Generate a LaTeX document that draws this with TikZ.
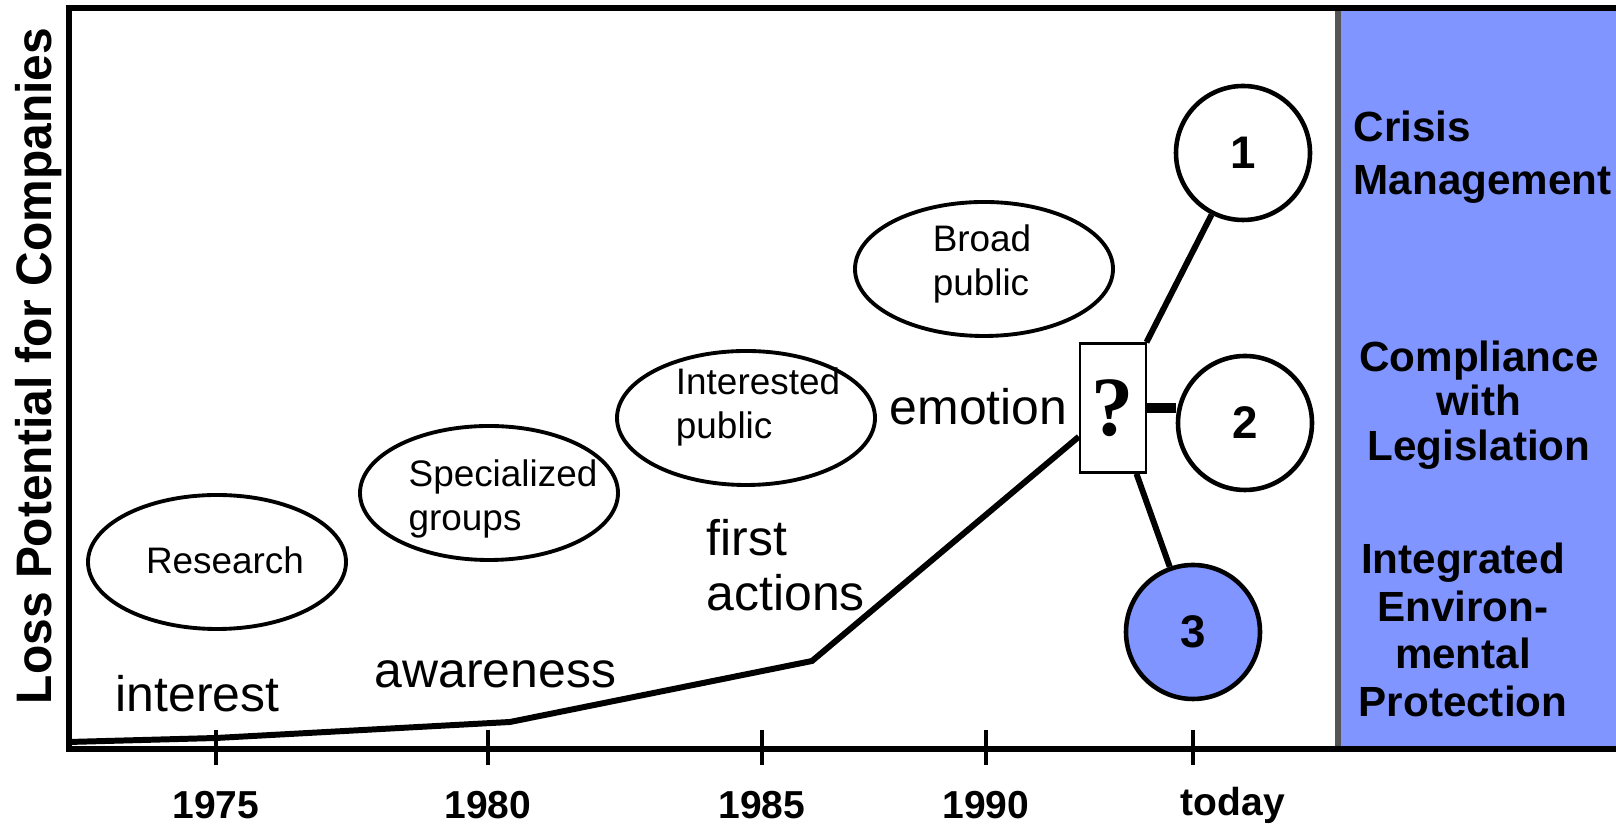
\documentclass[tikz,border=0pt]{standalone}
\usepackage{fontspec}
\setmainfont{Liberation Sans}
\newfontfamily\qmarkfont{Liberation Serif}
\newfontfamily\axisfont[FakeStretch=0.96]{Liberation Sans}
\usetikzlibrary{shapes.geometric}

\definecolor{panelblue}{RGB}{128,149,255}
\definecolor{edgegray}{RGB}{85,85,85}

\tikzset{
  phase/.style={draw, ellipse, line width=1.1pt, minimum width=2.58cm, minimum height=1.34cm,
    inner sep=0pt},
  phasetext/.style={inner sep=0pt, align=left, font=\fontsize{10.5}{12.5}\selectfont},
  stage/.style={inner sep=0pt, align=left, font=\fontsize{14.2}{15.6}\selectfont},
  option/.style={draw, circle, line width=1.3pt, minimum size=1.34cm, inner sep=0pt,
    font=\fontsize{13}{13}\selectfont\bfseries},
  yearlabel/.style={inner sep=0pt, font=\fontsize{11.1}{11.1}\selectfont\bfseries},
  strategy/.style={inner sep=0pt, align=center, font=\fontsize{12}{12.7}\selectfont\bfseries}
}

\begin{document}
\begin{tikzpicture}
    \useasboundingbox (0,0) rectangle (16.16,8.26);

    % strategy panel on the right
    \fill[panelblue] (13.38,0.77) rectangle (16.16,8.18);
    \draw[edgegray, line width=1.6pt] (13.38,0.77) -- (13.38,8.18);

    % frame and time axis
    \draw[line width=1.7pt] (16.16,8.18) -- (0.69,8.18) -- (0.69,0.77) -- (16.16,0.77);
    \node[rotate=90, inner sep=0pt, font=\axisfont\bfseries\fontsize{14.2}{14.2}\selectfont]
      (ylabel) at (0.39,4.60) {Loss Potential for Companies};

    % ticks and years
    \foreach \x/\yr [count=\i] in {2.16/1975, 4.88/1980, 7.62/1985, 9.86/1990} {
      \draw[line width=1.2pt] (\x,0.61) -- (\x,0.96);
      \node[yearlabel] (year\i) at (\x,0.21) {\yr};
    }
    \draw[line width=1.2pt] (11.93,0.61) -- (11.93,0.96);
    \node[yearlabel] (today) at (12.33,0.21) {today};

    % groups that take up the topic
    \node[phase] (research) at (2.17,2.64) {};
    \node[phase] (special) at (4.89,3.33) {};
    \node[phase] (interested) at (7.46,4.08) {};
    \node[phase] (broad) at (9.84,5.57) {};
    \node[phasetext] (researchtxt) at (2.25,2.66) {Research};
    \node[phasetext] (specialtxt) at (5.03,3.27) {Specialized\\groups};
    \node[phasetext] (interestedtxt) at (7.58,4.19) {Interested\\public};
    \node[phasetext] (broadtxt) at (9.82,5.62) {Broad\\public};

    % stages along the curve
    \node[stage, anchor=base west] (interest) at (1.15,1.14) {interest};
    \node[stage, anchor=base west] (awareness) at (3.74,1.38) {awareness};
    \node[stage, anchor=west] (actions) at (7.06,2.61) {first\\actions};
    \node[stage, anchor=base west] (emotion) at (8.89,4.01) {emotion};

    % decision box and the three ways out
    \node[draw, fill=white, line width=0.7pt, minimum width=0.66cm, minimum height=1.29cm,
      inner sep=0pt, font=\qmarkfont\bfseries\fontsize{24}{24}\selectfont] (q) at (11.13,4.18) {?};
    \node[option] (c1) at (12.43,6.73) {1};
    \node[option] (c2) at (12.45,4.03) {2};
    \node[option, fill=panelblue] (c3) at (11.93,1.94) {3};

    % loss potential over time
    \draw[line width=1.7pt] (0.69,0.84) -- (2.16,0.88) -- (5.10,1.04) -- (8.12,1.65) -- (q);

    \draw[line width=1.7pt] (q) -- (c1);
    \draw[line width=2.6pt] (q.east) -- (q.east -| c2.west);
    \draw[line width=1.7pt] (q) -- (c3);

    % strategies
    \node[strategy, anchor=west, align=left, font=\fontsize{12}{15}\selectfont\bfseries]
      (crisis) at (13.53,6.69) {Crisis\\Management};
    \node[strategy] (comply) at (14.79,4.21) {Compliance\\with\\Legislation};
    \node[strategy, font=\fontsize{12}{13.5}\selectfont\bfseries]
      (protect) at (14.63,1.96) {Integrated\\Environ-\\mental\\Protection};
\end{tikzpicture}
\end{document}
